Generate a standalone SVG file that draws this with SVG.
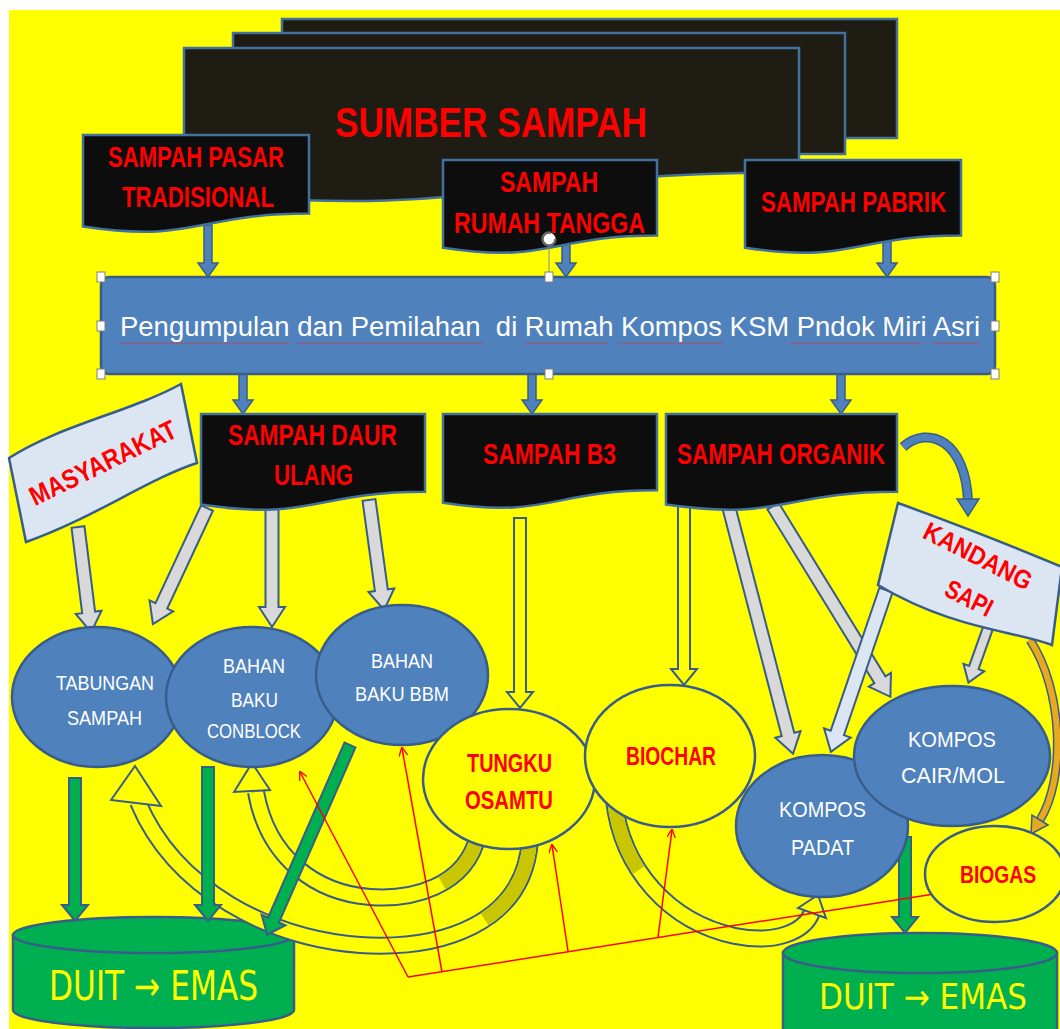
<svg xmlns="http://www.w3.org/2000/svg" width="1060" height="1029" viewBox="0 0 1060 1029">
<defs>
<style>
.t{font-family:"Liberation Sans",Arial,sans-serif;font-weight:bold}
.red{fill:#ff0000}
.wh{fill:#ffffff;font-weight:normal}
.ye{fill:#ffff00;font-family:"DejaVu Sans","Liberation Sans",sans-serif;font-weight:normal}
.doc{fill:#0d0d0d;stroke:#41719c;stroke-width:2.5}
.stack{fill:#1f1c13;stroke:#41719c;stroke-width:2.5}
.blue{fill:#4f81bd;stroke:#385d8a;stroke-width:2.5}
.yel{fill:#ffff00;stroke:#385d8a;stroke-width:2.5}
.sign{fill:#dce6f2;stroke:#385d8a;stroke-width:2.5}
.cyl{fill:#00b050;stroke:#385d8a;stroke-width:2.5}
.ga{fill:#d9d9d9;stroke:#385d8a;stroke-width:2}
.la{fill:#dce6f2;stroke:#385d8a;stroke-width:2}
.ya{fill:#ffff00;stroke:#385d8a;stroke-width:2}
.gr{fill:#00b050;stroke:#385d8a;stroke-width:2}
.ba{fill:#4f81bd;stroke:#385d8a;stroke-width:1.5}
.rl{fill:none;stroke:#ff0000;stroke-width:1.5}
.co{fill:none;stroke:#385d8a;stroke-width:18}
.ci{fill:none;stroke:#ffff00;stroke-width:14}
.ol{fill:none;stroke:#c9c600;stroke-width:14}
.h{fill:#ffffff;stroke:#7f7f7f;stroke-width:1}
</style>
<marker id="ra" viewBox="0 0 10 10" refX="9" refY="5" markerWidth="9" markerHeight="9" orient="auto" markerUnits="userSpaceOnUse">
<path d="M0,0 L10,5 L0,10" fill="none" stroke="#ff0000" stroke-width="1.5"/>
</marker>
<pattern id="sq" width="4" height="3" patternUnits="userSpaceOnUse">
<path d="M0,2.5 L2,0.5 L4,2.5" fill="none" stroke="#e03030" stroke-width="0.8"/>
</pattern>
</defs>

<rect x="0" y="0" width="1060" height="1029" fill="#ffffff"/>
<rect x="9" y="10" width="1051" height="1019" fill="#ffff00"/>

<g id="sumber-sampah">
<rect class="stack" x="282" y="19" width="615" height="119"/>
<rect class="stack" x="233" y="33" width="612" height="121"/>
<path class="stack" d="M184,48 H799 V172.3 C491.5,172.3 491.5,219.6 184,192.8 Z"/>
<text class="t red" x="335" y="137" font-size="42" textLength="312" lengthAdjust="spacingAndGlyphs">SUMBER SAMPAH</text>
</g>

<g id="duit-emas-kiri">
<path class="cyl" d="M13,935 V1010 A140.5,18 0 0 0 294,1010 V935 Z"/>
<ellipse class="cyl" cx="153.5" cy="935" rx="140.5" ry="18"/>
<text class="ye" x="49" y="1000" font-size="40" textLength="209" lengthAdjust="spacingAndGlyphs">DUIT → EMAS</text>
</g>

<g id="duit-emas-kanan">
<path class="cyl" d="M783,953 V1032 A137,20 0 0 0 1057,1032 V953 Z"/>
<ellipse class="cyl" cx="920" cy="953" rx="137" ry="20"/>
<text class="ye" x="819" y="1009" font-size="35" textLength="208" lengthAdjust="spacingAndGlyphs">DUIT → EMAS</text>
</g>

<g id="connectors">
<path class="co" d="M478,835 C466,888 410,900 370,897 C318,893 268,860 256,792"/>
<path class="ci" d="M478,835 C466,888 410,900 370,897 C318,893 268,860 256,792"/>
<path class="ol" d="M478,835 C466,888 410,900 370,897 C318,893 268,860 256,792" stroke-dasharray="62 2000"/>
<polygon class="ya" points="234,792 252,763 270,790"/>

<path class="co" d="M530,840 C524,925 440,950 360,945 C270,938 175,890 138,802"/>
<path class="ci" d="M530,840 C524,925 440,950 360,945 C270,938 175,890 138,802"/>
<path class="ol" d="M530,840 C524,925 440,950 360,945 C270,938 175,890 138,802" stroke-dasharray="95 2000"/>
<polygon class="ya" points="111,800 135,766 161,806"/>

<path class="co" d="M614,800 C622,870 670,922 735,936 C775,944 805,932 812,912"/>
<path class="ci" d="M614,800 C622,870 670,922 735,936 C775,944 805,932 812,912"/>
<path class="ol" d="M614,800 C622,870 670,922 735,936 C775,944 805,932 812,912" stroke-dasharray="75 2000"/>
<polygon class="ya" points="798,908 818,895 826,918"/>

<path d="M903,447 C928,425 966,440 968,502" fill="none" stroke="#385d8a" stroke-width="10"/>
<path d="M903,447 C928,425 966,440 968,502" fill="none" stroke="#4f81bd" stroke-width="7"/>
<polygon class="ba" points="957,499 979,499 968,516"/>

<path d="M1030,640 C1063,690 1066,778 1040,820" fill="none" stroke="#385d8a" stroke-width="9"/>
<path d="M1030,640 C1063,690 1066,778 1040,820" fill="none" stroke="#e8a820" stroke-width="6"/>
<polygon points="1048,825 1032,815 1031,834" fill="#e8a820" stroke="#385d8a" stroke-width="1.5"/>

<polygon class="ba" transform="translate(208,225) rotate(90)" points="0,-4 38,-4 38,-10 52,0 38,10 38,4 0,4"/>
<polygon class="ba" transform="translate(566,236) rotate(90)" points="0,-4 27,-4 27,-10 41,0 27,10 27,4 0,4"/>
<polygon class="ba" transform="translate(887,236) rotate(90)" points="0,-4 27,-4 27,-10 41,0 27,10 27,4 0,4"/>
<polygon class="ba" transform="translate(243,372) rotate(90)" points="0,-4 28,-4 28,-10 42,0 28,10 28,4 0,4"/>
<polygon class="ba" transform="translate(532,372) rotate(90)" points="0,-4 28,-4 28,-10 42,0 28,10 28,4 0,4"/>
<polygon class="ba" transform="translate(841,372) rotate(90)" points="0,-4 28,-4 28,-10 42,0 28,10 28,4 0,4"/>

<polygon class="ga" transform="translate(78,527) rotate(82.9)" points="0,-6.5 86,-6.5 86,-13 106,0 86,13 86,6.5 0,6.5"/>
<polygon class="ga" transform="translate(207,508) rotate(115)" points="0,-6.5 108,-6.5 108,-13 128,0 108,13 108,6.5 0,6.5"/>
<polygon class="ga" transform="translate(272,508) rotate(90)" points="0,-6.5 99,-6.5 99,-13 119,0 99,13 99,6.5 0,6.5"/>
<polygon class="ga" transform="translate(369,500) rotate(82.2)" points="0,-6.5 91,-6.5 91,-13 111,0 91,13 91,6.5 0,6.5"/>
<polygon class="ya" transform="translate(520,518) rotate(90)" points="0,-6 174,-6 174,-13 190,0 174,13 174,6 0,6"/>
<polygon class="ya" transform="translate(684,505) rotate(90)" points="0,-6 164,-6 164,-13 180,0 164,13 164,6 0,6"/>
<polygon class="ga" transform="translate(729,508) rotate(75.4)" points="0,-6.5 234,-6.5 234,-13 254,0 234,13 234,6.5 0,6.5"/>
<polygon class="ga" transform="translate(773,506) rotate(58.4)" points="0,-6.5 204,-6.5 204,-13 224,0 204,13 204,6.5 0,6.5"/>
<polygon class="la" transform="translate(886,590) rotate(108.8)" points="0,-7 151,-7 151,-14 171,0 151,14 151,7 0,7"/>
<polygon class="ga" transform="translate(988,628) rotate(109.7)" points="0,-5 42,-5 42,-11 58,0 42,11 42,5 0,5"/>

<polygon class="gr" transform="translate(75,778) rotate(90)" points="0,-6 127,-6 127,-13 143,0 127,13 127,6 0,6"/>
<polygon class="gr" transform="translate(208,767) rotate(90)" points="0,-6 138,-6 138,-13 154,0 138,13 138,6 0,6"/>
<polygon class="gr" transform="translate(350,745) rotate(113.6)" points="0,-6 191,-6 191,-13 207,0 191,13 191,6 0,6"/>
<polygon class="gr" transform="translate(905,837) rotate(90)" points="0,-6 80,-6 80,-13 96,0 80,13 80,6 0,6"/>

<path class="rl" d="M934,894 L408,977"/>
<path class="rl" d="M408,977 L300,772" marker-end="url(#ra)"/>
<path class="rl" d="M442,972 L402,748" marker-end="url(#ra)"/>
<path class="rl" d="M568,951 L552,845" marker-end="url(#ra)"/>
<path class="rl" d="M658,937 L672,830" marker-end="url(#ra)"/>
</g>

<g id="sampah-pasar">
<path class="doc" d="M83,135 H309 V213.6 C196,213.6 196,243.5 83,226.5 Z"/>
<text class="t red" x="108" y="167" font-size="30" textLength="176" lengthAdjust="spacingAndGlyphs">SAMPAH PASAR</text>
<text class="t red" x="122" y="207" font-size="30" textLength="152" lengthAdjust="spacingAndGlyphs">TRADISIONAL</text>
</g>

<g id="sampah-rumah-tangga">
<path class="doc" d="M443,160 H657 V235.4 C550,235.4 550,264 443,247.8 Z"/>
<text class="t red" x="500" y="192" font-size="30" textLength="98" lengthAdjust="spacingAndGlyphs">SAMPAH</text>
<text class="t red" x="454" y="233" font-size="30" textLength="191" lengthAdjust="spacingAndGlyphs">RUMAH TANGGA</text>
</g>

<g id="sampah-pabrik">
<path class="doc" d="M745,160 H961 V235.4 C853,235.4 853,264 745,247.8 Z"/>
<text class="t red" x="761" y="212" font-size="30" textLength="185" lengthAdjust="spacingAndGlyphs">SAMPAH PABRIK</text>
</g>

<g id="pengumpulan">
<rect class="blue" x="101" y="277" width="894" height="97" rx="8"/>
<text class="t wh" x="120" y="336" font-size="28" textLength="860" lengthAdjust="spacingAndGlyphs" xml:space="preserve">Pengumpulan dan Pemilahan  di Rumah Kompos KSM Pndok Miri Asri</text>
<rect x="120" y="342" width="170" height="3" fill="url(#sq)"/>
<rect x="297" y="342" width="186" height="3" fill="url(#sq)"/>
<rect x="524" y="342" width="84" height="3" fill="url(#sq)"/>
<rect x="618" y="342" width="105" height="3" fill="url(#sq)"/>
<rect x="790" y="342" width="132" height="3" fill="url(#sq)"/>
<rect x="932" y="342" width="48" height="3" fill="url(#sq)"/>
</g>

<g id="sampah-daur-ulang">
<path class="doc" d="M201,414 H425 V491.8 C313,491.8 313,521.4 201,504.6 Z"/>
<text class="t red" x="228" y="445" font-size="30" textLength="169" lengthAdjust="spacingAndGlyphs">SAMPAH DAUR</text>
<text class="t red" x="274" y="485" font-size="30" textLength="79" lengthAdjust="spacingAndGlyphs">ULANG</text>
</g>

<g id="sampah-b3">
<path class="doc" d="M443,414 H657 V490.2 C550,490.2 550,519.2 443,502.7 Z"/>
<text class="t red" x="483" y="464" font-size="30" textLength="133" lengthAdjust="spacingAndGlyphs">SAMPAH B3</text>
</g>

<g id="sampah-organik">
<path class="doc" d="M666,414 H897 V491.8 C781.5,491.8 781.5,521.4 666,504.6 Z"/>
<text class="t red" x="677" y="464" font-size="30" textLength="208" lengthAdjust="spacingAndGlyphs">SAMPAH ORGANIK</text>
</g>

<g id="masyarakat">
<path class="sign" d="M9,458 C60,425 130,412 181,384 L197,463 C150,478 90,520 26,542 Z"/>
<text class="t red" transform="translate(103,463) rotate(-26)" x="-80" y="9" font-size="27" textLength="160" lengthAdjust="spacingAndGlyphs">MASYARAKAT</text>
</g>

<g id="kandang-sapi">
<path class="sign" d="M898,503 C950,522 1010,545 1062,567 L1052,645 C1010,630 950,628 878,585 Z"/>
<text class="t red" transform="translate(978,556) rotate(27)" x="-59" y="9" font-size="26" textLength="118" lengthAdjust="spacingAndGlyphs">KANDANG</text>
<text class="t red" transform="translate(969,598) rotate(27)" x="-25" y="9" font-size="26" textLength="50" lengthAdjust="spacingAndGlyphs">SAPI</text>
</g>

<g id="tabungan-sampah">
<ellipse class="blue" cx="97" cy="697" rx="85" ry="70"/>
<text class="t wh" x="56" y="690" font-size="21" textLength="98" lengthAdjust="spacingAndGlyphs">TABUNGAN</text>
<text class="t wh" x="67" y="725" font-size="21" textLength="75" lengthAdjust="spacingAndGlyphs">SAMPAH</text>
</g>

<g id="bahan-baku-conblock">
<ellipse class="blue" cx="252" cy="697" rx="86" ry="70"/>
<text class="t wh" x="223" y="673" font-size="21" textLength="62" lengthAdjust="spacingAndGlyphs">BAHAN</text>
<text class="t wh" x="231" y="707" font-size="21" textLength="47" lengthAdjust="spacingAndGlyphs">BAKU</text>
<text class="t wh" x="207" y="738" font-size="21" textLength="94" lengthAdjust="spacingAndGlyphs">CONBLOCK</text>
</g>

<g id="bahan-baku-bbm">
<ellipse class="blue" cx="402" cy="675" rx="86" ry="70"/>
<text class="t wh" x="371" y="668" font-size="21" textLength="62" lengthAdjust="spacingAndGlyphs">BAHAN</text>
<text class="t wh" x="355" y="701" font-size="21" textLength="94" lengthAdjust="spacingAndGlyphs">BAKU BBM</text>
</g>

<g id="tungku-osamtu">
<ellipse class="yel" cx="509" cy="779" rx="86" ry="70"/>
<text class="t red" x="467" y="772" font-size="25" textLength="85" lengthAdjust="spacingAndGlyphs">TUNGKU</text>
<text class="t red" x="465" y="809" font-size="25" textLength="88" lengthAdjust="spacingAndGlyphs">OSAMTU</text>
</g>

<g id="biochar">
<ellipse class="yel" cx="670" cy="756" rx="85" ry="71"/>
<text class="t red" x="626" y="765" font-size="25" textLength="90" lengthAdjust="spacingAndGlyphs">BIOCHAR</text>
</g>

<g id="kompos-padat">
<ellipse class="blue" cx="822" cy="826" rx="86" ry="71"/>
<text class="t wh" x="779" y="817" font-size="22" textLength="87" lengthAdjust="spacingAndGlyphs">KOMPOS</text>
<text class="t wh" x="791" y="855" font-size="22" textLength="63" lengthAdjust="spacingAndGlyphs">PADAT</text>
</g>

<g id="kompos-cair-mol">
<ellipse class="blue" cx="952" cy="756" rx="98" ry="70"/>
<text class="t wh" x="908" y="747" font-size="22" textLength="88" lengthAdjust="spacingAndGlyphs">KOMPOS</text>
<text class="t wh" x="901" y="783" font-size="22" textLength="104" lengthAdjust="spacingAndGlyphs">CAIR/MOL</text>
</g>

<g id="biogas">
<ellipse class="yel" cx="995" cy="874" rx="70" ry="48"/>
<text class="t red" x="960" y="883" font-size="24" textLength="76" lengthAdjust="spacingAndGlyphs">BIOGAS</text>
</g>

<g id="selection-handles">
<line x1="549" y1="246" x2="549" y2="272" stroke="#8c8c8c" stroke-width="1"/>
<circle cx="549" cy="239" r="6.5" fill="#ffffff" stroke="#666666" stroke-width="2.5" stroke-dasharray="32 9"/>
<rect class="h" x="97" y="272" width="8" height="10"/>
<rect class="h" x="545" y="272" width="8" height="10"/>
<rect class="h" x="991" y="272" width="8" height="10"/>
<rect class="h" x="97" y="321" width="8" height="10"/>
<rect class="h" x="991" y="321" width="8" height="10"/>
<rect class="h" x="97" y="369" width="8" height="10"/>
<rect class="h" x="545" y="369" width="8" height="10"/>
<rect class="h" x="991" y="369" width="8" height="10"/>
</g>
</svg>
